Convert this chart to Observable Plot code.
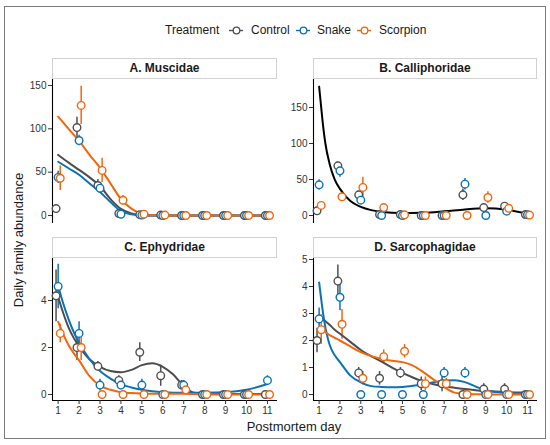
<!DOCTYPE html>
<html><head><meta charset="utf-8">
<script src="https://cdn.jsdelivr.net/npm/d3@7"></script>
<script src="https://cdn.jsdelivr.net/npm/@observablehq/plot@0.6"></script>
<style>
body{margin:0;background:#fff;font-family:"Liberation Sans",Arial,sans-serif;}
#fig{position:relative;width:550px;height:445px;overflow:hidden;background:#fff;}
.frame{position:absolute;left:4px;top:6px;width:542px;height:433px;border:1.5px solid #7a7a7a;box-sizing:border-box;}
.strip{position:absolute;height:21px;border:1px solid #d2d2d2;background:#fff;box-sizing:border-box;font-weight:bold;font-size:12px;text-align:center;line-height:19px;color:#1a1a1a;}
.panel{position:absolute;}
.lab{position:absolute;font-size:12px;color:#1a1a1a;line-height:14px;white-space:nowrap;}
.key{position:absolute;}
.ytitle{position:absolute;left:18px;top:240px;transform:translate(-50%,-50%) rotate(-90deg);font-size:13px;color:#1a1a1a;white-space:nowrap;}
.xtitle{position:absolute;left:294px;top:426px;transform:translate(-50%,-50%);font-size:13px;color:#1a1a1a;white-space:nowrap;}
</style>
</head><body>
<div id="fig">
  <div class="frame"></div>
</div>
<script>
// ---------- data ----------
const days = [1, 2, 3, 4, 5, 6, 7, 8, 9, 10, 11];
const treatments = ["Control", "Snake", "Scorpion"];
const treatmentColors = ["#505050", "#0B72BA", "#F4650C"];
const dodge = [-0.1, 0, 0.1];

// A. Muscidae
const muscControl   = [8, 101.5, 34.6, 2.3, 1, 0.5, 0, 0, 0, 0, 0];
const muscControlSE = [0, 12, 7, 0, 0, 0, 0, 0, 0, 0, 0];
const muscSnake     = [44, 86.5, 31.5, 1.5, 0.5, 0, 0, 0, 0, 0, 0];
const muscSnakeSE   = [7, 6, 4, 0, 0, 0, 0, 0, 0, 0, 0];
const muscScorp     = [43, 127, 52, 17.6, 1.5, 0.5, 0, 0, 0, 0, 0];
const muscScorpSE   = [14, 22, 14, 5.5, 0, 0, 0, 0, 0, 0, 0];
const muscFitDay    = [1, 1.5, 2, 2.5, 3, 3.5, 4, 4.5, 5, 5.5, 6, 7, 8, 9, 10, 11];
const muscFitControl= [70, 61, 52.7, 44, 34, 19, 7.7, 2.5, 0.4, 0.1, 0, 0, 0, 0, 0, 0];
const muscFitSnake  = [62, 54.5, 47, 37, 27, 15.5, 5, 1.5, 0.3, 0.1, 0, 0, 0, 0, 0, 0];
const muscFitScorp  = [114, 100, 86, 70, 55, 37, 19, 8, 2, 0.5, 0, 0, 0, 0, 0, 0];

// B. Calliphoridae
const calliControl   = [6.5, 69, 28.7, 1.4, 1.4, 0, 0, 28.7, 11, 13, 1.4];
const calliControlSE = [0, 5, 5, 0, 0, 0, 0, 8, 2, 3, 0];
const calliSnake     = [42.6, 62, 21.3, 0, 0, 0, 0, 43.5, 0, 6, 1];
const calliSnakeSE   = [7, 9, 5, 0, 0, 0, 0, 8, 0, 0, 0];
const calliScorp     = [14, 26, 39, 11, 0.9, 0, 0, 0, 25, 10, 0.6];
const calliScorpSE   = [2, 0, 14, 4, 0, 0, 0, 0, 8, 0, 0];
const calliFitDay    = [1, 1.1, 1.2, 1.3, 1.5, 1.75, 2, 2.5, 3, 3.5, 4, 5, 6, 7, 8, 9, 10, 11];
const calliFitAll    = [179, 150, 122, 100, 72, 50, 37, 20, 12, 7.5, 5, 3.6, 3.8, 5.8, 8.5, 10, 8, 2.5];

// C. Ephydridae
const ephyControl   = [4.2, 2.0, 1.2, 0.6, 1.8, 0.8, 0.4, 0, 0, 0, 0];
const ephyControlSE = [1.1, 0.55, 0.2, 0.2, 0.4, 0.45, 0.2, 0, 0, 0, 0];
const ephySnake     = [4.6, 2.6, 0.4, 0.4, 0.4, 0, 0.4, 0, 0, 0, 0.6];
const ephySnakeSE   = [0.95, 0.5, 0.25, 0.2, 0.25, 0, 0.2, 0, 0, 0, 0.2];
const ephyScorp     = [2.6, 2.0, 0, 0, 0, 0, 0.2, 0, 0, 0, 0];
const ephyScorpSE   = [0.4, 0.55, 0, 0, 0, 0, 0.1, 0, 0, 0, 0];
const ephyFitDay    = [1, 1.25, 1.5, 1.75, 2, 2.5, 3, 3.5, 4, 4.5, 5, 5.5, 6, 6.5, 7, 7.5, 8, 9, 10, 11];
const ephyFitControl= [4.15, 3.45, 2.85, 2.4, 2.05, 1.5, 1.18, 1.0, 0.95, 1.05, 1.25, 1.33, 1.18, 0.85, 0.35, 0.07, 0.04, 0.03, 0.02, 0.02];
const ephyFitSnake  = [4.62, 3.85, 3.2, 2.65, 2.2, 1.5, 1.0, 0.68, 0.44, 0.3, 0.2, 0.14, 0.1, 0.08, 0.08, 0.08, 0.08, 0.1, 0.2, 0.45];
const ephyFitScorp  = [3.1, 2.55, 2.1, 1.75, 1.45, 0.78, 0.38, 0.2, 0.1, 0.06, 0.04, 0.03, 0.03, 0.03, 0.03, 0.02, 0.01, 0, 0, 0];

// D. Sarcophagidae
const sarcControl   = [2.0, 4.2, 0.8, 0.6, 0.8, 0.4, 0.4, 0, 0.2, 0.2, 0];
const sarcControlSE = [0.45, 0.6, 0.2, 0.25, 0.2, 0.25, 0.3, 0, 0.2, 0.2, 0];
const sarcSnake     = [2.8, 3.6, 0, 0, 0, 0, 0.8, 0.8, 0, 0, 0];
const sarcSnakeSE   = [0.4, 0.5, 0, 0, 0, 0, 0.2, 0.2, 0, 0, 0];
const sarcScorp     = [2.4, 2.6, 0.6, 1.4, 1.6, 0.4, 0.4, 0, 0, 0, 0];
const sarcScorpSE   = [0.55, 0.55, 0.25, 0.25, 0.25, 0.25, 0.2, 0, 0, 0, 0];
const sarcFitDay    = [1, 1.25, 1.5, 1.75, 2, 2.5, 3, 3.5, 4, 4.5, 5, 5.5, 6, 6.5, 7, 7.5, 8, 8.5, 9, 10, 11];
const sarcFitControl= [2.93, 2.75, 2.58, 2.4, 2.25, 1.95, 1.65, 1.42, 1.22, 1.0, 0.8, 0.63, 0.48, 0.38, 0.3, 0.25, 0.2, 0.16, 0.13, 0.09, 0.07];
const sarcFitSnake  = [4.15, 2.7, 1.85, 1.45, 1.2, 0.7, 0.45, 0.31, 0.28, 0.27, 0.28, 0.32, 0.38, 0.45, 0.52, 0.53, 0.46, 0.3, 0.16, 0.06, 0.03];
const sarcFitScorp  = [2.49, 2.35, 2.2, 2.1, 2.0, 1.78, 1.57, 1.42, 1.32, 1.25, 1.2, 1.07, 0.83, 0.55, 0.27, 0.07, 0.02, 0.01, 0, 0, 0];

// ---------- drawing ----------
const fig = document.getElementById("fig");
const FONT = "'Liberation Sans', Arial, sans-serif";
const xDomain = [0.73, 11.48];

function rows(series) {
  const out = [];
  series.forEach((s, i) => days.forEach((d, j) => out.push({
    treatment: treatments[i], x: d + dodge[i], y: s.v[j], se: s.se[j]
  })));
  return out;
}
function fitRows(xs, ys) {
  return xs.map((x, i) => ({x, y: ys[i]}));
}

function panel(cfg) {
  const pts = rows(cfg.series);
  const marks = [
    Plot.ruleX([xDomain[0]], {stroke: "#000", strokeWidth: 1.1}),
    Plot.axisY({ticks: cfg.yTicks, tickSize: 4, tickPadding: 2, fontSize: 10, color: "#333", label: null, tickFormat: d => String(d)}),
    Plot.ruleX(pts.filter(d => d.se > 0), {x: "x", y1: d => d.y - d.se, y2: d => d.y + d.se, stroke: "treatment", strokeWidth: 1.5})
  ];
  if (cfg.showX) {
    marks.push(Plot.ruleY([cfg.yDomain[0]], {stroke: "#000", strokeWidth: 1.1}));
    marks.push(Plot.axisX({ticks: days, tickSize: 4, tickPadding: 2, fontSize: 10, color: "#333", label: null, tickFormat: d => String(d)}));
  }
  cfg.fits.forEach(f => marks.push(Plot.line(f.data, {x: "x", y: "y", stroke: f.color, strokeWidth: 2, curve: "monotone-x"})));
  marks.push(Plot.dot(pts, {x: "x", y: "y", r: 3.8, stroke: "treatment", fill: "white", strokeWidth: 1.4}));

  const svg = Plot.plot({
    width: cfg.width, height: cfg.height,
    marginLeft: cfg.ml, marginRight: 8, marginTop: 30, marginBottom: cfg.mb,
    x: {domain: xDomain, axis: null},
    y: {domain: cfg.yDomain, axis: null},
    color: {domain: treatments, range: treatmentColors},
    style: {fontFamily: FONT, fontSize: "10px", background: "transparent", overflow: "visible"},
    marks
  });
  const div = document.createElement("div");
  div.className = "panel";
  div.style.left = cfg.left + "px";
  div.style.top = cfg.top + "px";
  div.appendChild(svg);
  fig.appendChild(div);

  const strip = document.createElement("div");
  strip.className = "strip";
  strip.style.left = (cfg.left + cfg.ml) + "px";
  strip.style.top = (cfg.top + 30 - 21) + "px";
  strip.style.width = (cfg.width - cfg.ml - 8) + "px";
  strip.textContent = cfg.title;
  fig.appendChild(strip);
}

const ctrlLine = "#4D4D4D";

panel({
  title: "A. Muscidae", left: 0, top: 49, width: 285, height: 181, ml: 52, mb: 7,
  yDomain: [-9.2, 156.9], yTicks: [0, 50, 100, 150], showX: false,
  series: [{v: muscControl, se: muscControlSE}, {v: muscSnake, se: muscSnakeSE}, {v: muscScorp, se: muscScorpSE}],
  fits: [
    {data: fitRows(muscFitDay, muscFitControl), color: ctrlLine},
    {data: fitRows(muscFitDay, muscFitSnake), color: treatmentColors[1]},
    {data: fitRows(muscFitDay, muscFitScorp), color: treatmentColors[2]}
  ]
});
panel({
  title: "B. Calliphoridae", left: 260, top: 49, width: 285, height: 181, ml: 53, mb: 7,
  yDomain: [-11.1, 188.9], yTicks: [0, 50, 100, 150], showX: false,
  series: [{v: calliControl, se: calliControlSE}, {v: calliSnake, se: calliSnakeSE}, {v: calliScorp, se: calliScorpSE}],
  fits: [{data: fitRows(calliFitDay, calliFitAll), color: "#000"}]
});
panel({
  title: "C. Ephydridae", left: 0, top: 228, width: 285, height: 194, ml: 52, mb: 22,
  yDomain: [-0.255, 5.79], yTicks: [0, 2, 4], showX: true,
  series: [{v: ephyControl, se: ephyControlSE}, {v: ephySnake, se: ephySnakeSE}, {v: ephyScorp, se: ephyScorpSE}],
  fits: [
    {data: fitRows(ephyFitDay, ephyFitControl), color: ctrlLine},
    {data: fitRows(ephyFitDay, ephyFitSnake), color: treatmentColors[1]},
    {data: fitRows(ephyFitDay, ephyFitScorp), color: treatmentColors[2]}
  ]
});
panel({
  title: "D. Sarcophagidae", left: 260, top: 228, width: 285, height: 194, ml: 53, mb: 22,
  yDomain: [-0.222, 5.037], yTicks: [0, 1, 2, 3, 4, 5], showX: true,
  series: [{v: sarcControl, se: sarcControlSE}, {v: sarcSnake, se: sarcSnakeSE}, {v: sarcScorp, se: sarcScorpSE}],
  fits: [
    {data: fitRows(sarcFitDay, sarcFitControl), color: ctrlLine},
    {data: fitRows(sarcFitDay, sarcFitSnake), color: treatmentColors[1]},
    {data: fitRows(sarcFitDay, sarcFitScorp), color: treatmentColors[2]}
  ]
});

// axis titles
const yt = document.createElement("div");
yt.className = "ytitle"; yt.textContent = "Daily family abundance"; fig.appendChild(yt);
const xt = document.createElement("div");
xt.className = "xtitle"; xt.textContent = "Postmortem day"; fig.appendChild(xt);

// legend
function addLabel(text, left) {
  const l = document.createElement("div");
  l.className = "lab"; l.textContent = text;
  l.style.left = left + "px"; l.style.top = "23px";
  fig.appendChild(l);
}
addLabel("Treatment", 165);
const keyX = [229, 296, 357];
const labX = [251, 317, 379];
treatments.forEach((t, i) => {
  const k = Plot.plot({
    width: 14, height: 12, margin: 0,
    x: {domain: [0, 1], axis: null}, y: {domain: [0, 1], axis: null},
    color: {domain: treatments, range: treatmentColors},
    style: {background: "transparent", overflow: "visible"},
    marks: [
      Plot.ruleY([{t}], {y: 0.5, x1: 0, x2: 1, stroke: d => d.t, strokeWidth: 1.4}),
      Plot.dot([{t}], {x: 0.5, y: 0.5, r: 3.3, stroke: d => d.t, fill: "white", strokeWidth: 1.3})
    ]
  });
  const d = document.createElement("div");
  d.className = "key"; d.style.left = keyX[i] + "px"; d.style.top = "24px";
  d.appendChild(k); fig.appendChild(d);
  addLabel(t, labX[i]);
});
</script>
</body></html>
